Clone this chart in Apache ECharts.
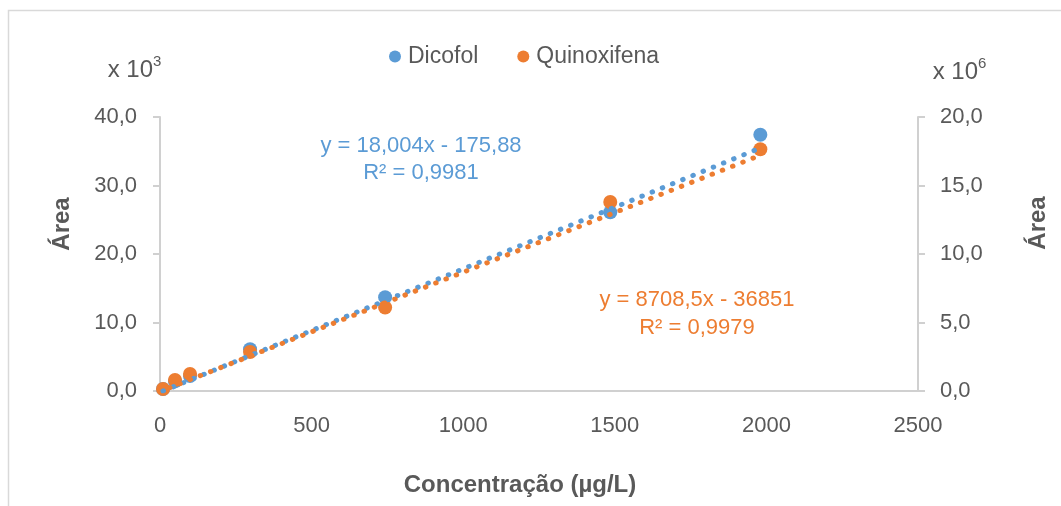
<!DOCTYPE html>
<html>
<head>
<meta charset="utf-8">
<script src="https://cdn.jsdelivr.net/npm/echarts@6/dist/echarts.min.js"></script>
<style>
  html, body { margin: 0; padding: 0; background: #fff; }
  #chart { width: 1061px; height: 506px; }
</style>
</head>
<body>
<div id="chart"></div>
<script>
// Calibration data: concentration (µg/L) vs. peak area
const concentracao = [9.9, 49.5, 99, 297, 742.5, 1485, 1980];
const dicofolArea = [0.3, 1.4, 2.2, 6.1, 13.7, 26.1, 37.4];        // x 10^3
const quinoxifenaArea = [0.15, 0.8, 1.25, 2.85, 6.1, 13.8, 17.65]; // x 10^6

// Linear regression results (raw area units)
const dicofolFit = { slope: 18.004, intercept: -175.88, r2: '0,9981', label: 'y = 18,004x - 175,88' };
const quinoxFit = { slope: 8708.5, intercept: -36851, r2: '0,9979', label: 'y = 8708,5x - 36851' };

const xTicks = { min: 0, max: 2500, interval: 500 };
const leftTicks = { min: 0, max: 40, interval: 10 };
const rightTicks = { min: 0, max: 20, interval: 5 };

const BLUE = '#5B9BD5';
const ORANGE = '#ED7D31';
const TEXT = '#595959';
const AXIS = '#D0D0D0';
const FONT = '"Liberation Sans", Arial, sans-serif';

function fitLine(fit, scale) {
  const xs = [Math.min(...concentracao), Math.max(...concentracao)];
  return xs.map(x => [x, (fit.slope * x + fit.intercept) / scale]);
}
const comma1 = v => v.toFixed(1).replace('.', ',');
const plain = v => String(v);

const chart = echarts.init(document.getElementById('chart'), null, { renderer: 'canvas' });

const dotted = { type: [0.5, 10.5], cap: 'round', width: 5 };

function txt(text, x, y, opts) {
  return Object.assign({
    type: 'text', x: x, y: y, z: 100,
    style: Object.assign({
      text: text, fill: TEXT, font: '22px ' + FONT,
      align: 'center', verticalAlign: 'middle',
      textAlign: 'center', textVerticalAlign: 'middle'
    }, opts && opts.style)
  }, opts && opts.el);
}

chart.setOption({
  backgroundColor: '#fff',
  animation: false,
  grid: { left: 160, right: 143, top: 117, bottom: 115 },
  legend: {
    top: 40, left: 384,
    itemWidth: 12, itemHeight: 12, itemGap: 39,
    icon: 'circle',
    data: ['Dicofol', 'Quinoxifena'],
    textStyle: { fontFamily: FONT, fontSize: 23, color: TEXT, padding: [0, 0, 0, 2] }
  },
  xAxis: {
    type: 'value', min: xTicks.min, max: xTicks.max, interval: xTicks.interval,
    splitLine: { show: false },
    axisLine: { show: true, lineStyle: { color: AXIS, width: 2 } },
    axisTick: { show: false },
    axisLabel: { color: TEXT, fontFamily: FONT, fontSize: 22, margin: 24, formatter: plain }
  },
  yAxis: [
    {
      type: 'value', position: 'left', min: leftTicks.min, max: leftTicks.max, interval: leftTicks.interval,
      splitLine: { show: false },
      axisLine: { show: true, lineStyle: { color: AXIS, width: 2 } },
      axisTick: { show: true, inside: false, length: 7, lineStyle: { color: AXIS, width: 2 } },
      axisLabel: { color: TEXT, fontFamily: FONT, fontSize: 22, margin: 23, formatter: comma1 }
    },
    {
      type: 'value', position: 'right', min: rightTicks.min, max: rightTicks.max, interval: rightTicks.interval,
      splitLine: { show: false },
      axisLine: { show: true, lineStyle: { color: AXIS, width: 2 } },
      axisTick: { show: true, inside: false, length: 7, lineStyle: { color: AXIS, width: 2 } },
      axisLabel: { color: TEXT, fontFamily: FONT, fontSize: 22, margin: 22, formatter: comma1 }
    }
  ],
  series: [
    {
      name: 'Dicofol', type: 'scatter', yAxisIndex: 0, symbolSize: 14, z: 2,
      itemStyle: { color: BLUE, opacity: 1 },
      data: concentracao.map((c, i) => [c, dicofolArea[i]])
    },
    {
      name: 'Quinoxifena', type: 'scatter', yAxisIndex: 1, symbolSize: 14, z: 3,
      itemStyle: { color: ORANGE, opacity: 1 },
      data: concentracao.map((c, i) => [c, quinoxifenaArea[i]])
    },
    {
      name: 'Dicofol trend', type: 'line', yAxisIndex: 0, z: 4, showSymbol: false, silent: true,
      lineStyle: Object.assign({ color: BLUE }, dotted),
      data: fitLine(dicofolFit, 1000)
    },
    {
      name: 'Quinoxifena trend', type: 'line', yAxisIndex: 1, z: 5, showSymbol: false, silent: true,
      lineStyle: Object.assign({ color: ORANGE, dashOffset: 4 }, dotted),
      data: fitLine(quinoxFit, 1e6)
    }
  ],
  graphic: [
    // chart frame
    { type: 'rect', shape: { x: 8.5, y: 10.5, width: 1200, height: 800 }, z: 0,
      style: { fill: 'none', stroke: '#D9D9D9', lineWidth: 1.5 } },
    // axis multipliers
    txt('x 10', 153, 70, { style: { font: '24px ' + FONT, align: 'right', textAlign: 'right' } }),
    txt('3', 153, 62, { style: { font: '15px ' + FONT, align: 'left', textAlign: 'left' } }),
    txt('x 10', 978, 72, { style: { font: '24px ' + FONT, align: 'right', textAlign: 'right' } }),
    txt('6', 978, 64, { style: { font: '15px ' + FONT, align: 'left', textAlign: 'left' } }),
    // axis titles
    txt('Área', 62, 224, { el: { rotation: Math.PI / 2 }, style: { font: 'bold 24px ' + FONT } }),
    txt('Área', 1038, 223, { el: { rotation: Math.PI / 2 }, style: { font: 'bold 24px ' + FONT } }),
    txt('Concentração (µg/L)', 520, 485, { style: { font: 'bold 24px ' + FONT } }),
    // regression labels
    txt(dicofolFit.label, 421, 146, { style: { fill: BLUE } }),
    txt('R² = ' + dicofolFit.r2, 421, 173, { style: { fill: BLUE } }),
    txt(quinoxFit.label, 697, 300, { style: { fill: ORANGE } }),
    txt('R² = ' + quinoxFit.r2, 697, 328, { style: { fill: ORANGE } })
  ]
});
</script>
</body>
</html>
